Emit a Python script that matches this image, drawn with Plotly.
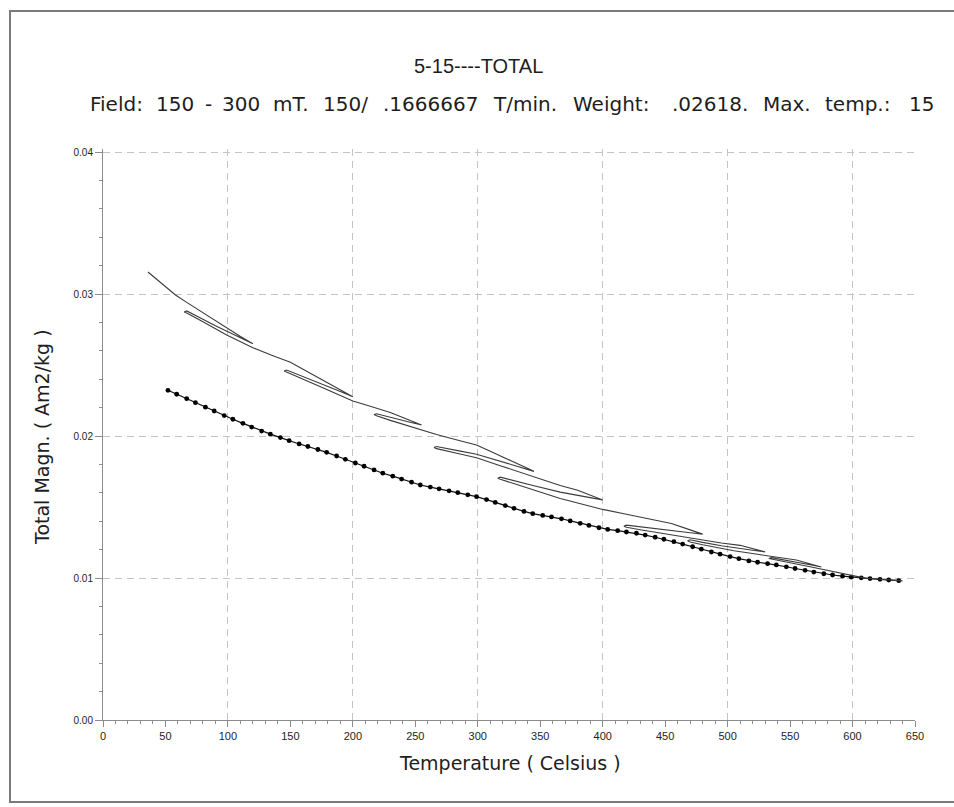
import plotly.graph_objects as go

# Cooling run: temperature (Celsius) and total magnetisation (Am2/kg)
cool_temp = [52, 59, 67, 74, 82, 89, 97, 104, 112, 119, 127, 134, 142, 149, 157, 164,
             172, 179, 187, 194, 202, 209, 217, 224, 232, 239, 247, 254, 262, 269, 277,
             284, 292, 299, 307, 314, 322, 329, 337, 344, 352, 359, 367, 374, 382, 389,
             397, 404, 412, 419, 427, 434, 442, 449, 457, 464, 472, 479, 487, 494, 502,
             509, 517, 524, 532, 539, 547, 554, 562, 569, 577, 584, 592, 599, 607, 614,
             622, 629, 637]
cool_magn = [.02322, .02294, .02263, .02235, .02203, .02176, .02144, .02118, .02089,
             .02063, .02035, .02013, .01989, .01967, .01944, .01926, .01905, .01885,
             .01859, .01836, .01810, .01787, .01761, .01738, .01717, .01697, .01675,
             .01655, .01640, .01628, .01614, .01601, .01586, .01573, .01552, .01532,
             .01510, .01491, .01469, .01453, .01441, .01430, .01417, .01402, .01385,
             .01370, .01354, .01342, .01333, .01324, .01315, .01302, .01287, .01273,
             .01256, .01239, .01220, .01203, .01183, .01168, .01151, .01136, .01120,
             .01111, .01101, .01092, .01079, .01067, .01054, .01042, .01030, .01021,
             .01013, .01006, .01001, .00996, .00991, .00986, .00981]

# Stepwise heating run with partial cooling loops (one continuous trace)
heat_temp = [36, 45, 58, 67, 80, 99, 110, 120,
             110, 99, 90, 80, 70, 67, 65,
             67, 80, 99, 120, 135, 150, 160, 175, 185, 200,
             190, 175, 160, 150, 147, 145,
             147, 160, 175, 190, 200, 210, 219, 230, 245, 255,
             245, 230, 219, 217,
             219, 230, 245, 255, 267, 285, 299, 310, 318, 330, 345,
             330, 318, 299, 285, 272, 267, 265,
             267, 285, 299, 318, 330, 345, 366, 380, 390, 400,
             390, 380, 366, 345, 330, 318, 316,
             318, 330, 345, 366, 380, 400, 419, 430, 445, 455, 470, 480,
             470, 460, 445, 430, 419, 417,
             419, 430, 445, 460, 470, 480, 495, 510, 520, 530,
             520, 505, 495, 480, 470, 468,
             470, 480, 495, 505, 520, 535, 545, 555, 565, 575,
             565, 555, 545, 535, 533,
             535, 545, 555, 565, 575, 585, 600, 610, 620, 630, 640]
heat_magn = [.03155, .03089, .02993, .02941, .02867, .02758, .02701, .02649,
             .02690, .02734, .02776, .02822, .02867, .02881, .02873,
             .02866, .02804, .02712, .02622, .02568, .02520, .02472, .02399, .02350, .02277,
             .02313, .02366, .02419, .02458, .02465, .02458,
             .02450, .02400, .02343, .02285, .02246, .02220, .02196, .02166, .02112, .02077,
             .02098, .02131, .02157, .02151,
             .02142, .02110, .02068, .02041, .02010, .01968, .01937, .01893, .01860, .01812, .01751,
             .01791, .01822, .01872, .01895, .01916, .01926, .01919,
             .01911, .01875, .01847, .01791, .01757, .01712, .01652, .01618, .01584, .01549,
             .01566, .01581, .01605, .01650, .01684, .01710, .01702,
             .01695, .01662, .01619, .01560, .01528, .01483, .01449, .01429, .01402, .01384, .01339, .01309,
             .01319, .01330, .01345, .01361, .01372, .01365,
             .01357, .01340, .01318, .01295, .01280, .01265, .01246, .01230, .01207, .01184,
             .01195, .01213, .01227, .01251, .01269, .01262,
             .01254, .01234, .01208, .01192, .01172, .01153, .01139, .01127, .01102, .01078,
             .01095, .01112, .01127, .01143, .01137,
             .01133, .01115, .01099, .01081, .01063, .01044, .01019, .00999, .00993, .00986, .00980]

title_text = "5-15----TOTAL"
subtitle_words = ["Field:", "150", "-", "300", "mT.", "150/", ".1666667", "T/min.",
                  "Weight:", ".02618.", "Max.", "temp.:", "15"]
x_title = "Temperature ( Celsius )"
y_title = "Total Magn. ( Am2/kg )"

# page geometry (pixels); the value 0.04 sits at pixel row 152
W, H = 954, 807
L, R, T, B = 103, 915, 149, 720
YMAX = 0.04 * (B - T) / (B - 152)
subtitle_center_px = [116, 175, 208, 241, 291, 345, 430, 525, 611, 710, 787, 857, 921]

FONT = "Liberation Sans, Arial, sans-serif"
WIDE = "DejaVu Sans, Verdana, sans-serif"
INK = "#1e1e1e"
AXIS = "#8c8c8c"
GRID = "#c4c4c4"


def px_x(px):
    return (px - L) / (R - L)


def px_y(py):
    return (B - py) / (B - T)


fig = go.Figure()

# heating run sits on the overlay axis that carries the 100-degree grid
fig.add_trace(go.Scatter(
    x=heat_temp, y=heat_magn, mode="lines", xaxis="x2", yaxis="y",
    line=dict(color="#3c3c3c", width=1.1),
    hoverinfo="skip", showlegend=False,
))
fig.add_trace(go.Scatter(
    x=cool_temp, y=cool_magn, mode="lines+markers", xaxis="x", yaxis="y",
    line=dict(color="#111111", width=1.2),
    marker=dict(color="#000000", size=4.8),
    hoverinfo="skip", showlegend=False,
))

annotations = [
    dict(text=title_text, x=px_x(478), y=px_y(66), xref="paper", yref="paper",
         xanchor="center", yanchor="middle", showarrow=False,
         font=dict(family=FONT, size=20, color=INK)),
    dict(text=x_title, x=px_x(510), y=px_y(763), xref="paper", yref="paper",
         xanchor="center", yanchor="middle", showarrow=False,
         font=dict(family=WIDE, size=19, color=INK)),
    dict(text=y_title, x=px_x(42), y=px_y(437), xref="paper", yref="paper",
         xanchor="center", yanchor="middle", showarrow=False, textangle=-90,
         font=dict(family=WIDE, size=19, color=INK)),
]
for word, px in zip(subtitle_words, subtitle_center_px):
    annotations.append(dict(
        text=word, x=px_x(px), y=px_y(104), xref="paper", yref="paper",
        xanchor="center", yanchor="middle", showarrow=False,
        font=dict(family=WIDE, size=20, color=INK)))

fig.update_layout(
    width=W, height=H,
    margin=dict(l=L, r=W - R, t=T, b=H - B, pad=0),
    paper_bgcolor="white", plot_bgcolor="white",
    font=dict(family=FONT, size=11, color=INK),
    annotations=annotations,
    xaxis=dict(
        range=[0, 650], dtick=50, tick0=0, showgrid=False, zeroline=False,
        showline=True, linecolor=AXIS, linewidth=1,
        ticks="outside", ticklen=6, tickcolor=AXIS, tickwidth=1,
        tickfont=dict(family=FONT, size=11, color=INK),
        minor=dict(dtick=10, ticklen=3, ticks="outside", tickcolor=AXIS, showgrid=False),
    ),
    xaxis2=dict(
        range=[0, 650], overlaying="x", matches="x", side="bottom", anchor="y",
        dtick=100, tick0=0, showgrid=True, gridcolor=GRID, griddash="7px,5px",
        gridwidth=1, showticklabels=False, ticks="", showline=False, zeroline=False,
    ),
    yaxis=dict(
        range=[0, YMAX], dtick=0.01, tick0=0, tickformat=".2f",
        showgrid=True, gridcolor=GRID, griddash="7px,5px", gridwidth=1,
        zeroline=False, showline=True, linecolor=AXIS, linewidth=1,
        ticks="outside", ticklen=7, tickcolor=AXIS, tickwidth=1,
        tickfont=dict(family=FONT, size=10, color=INK),
        minor=dict(dtick=0.002, ticklen=3, ticks="outside", tickcolor=AXIS, showgrid=False),
    ),
    shapes=[dict(
        type="rect", xref="paper", yref="paper",
        x0=px_x(10), x1=px_x(975), y0=px_y(802), y1=px_y(11),
        line=dict(color="#7a7a7a", width=2), fillcolor="rgba(0,0,0,0)", layer="below",
    )],
)

fig.write_html("out.html")
